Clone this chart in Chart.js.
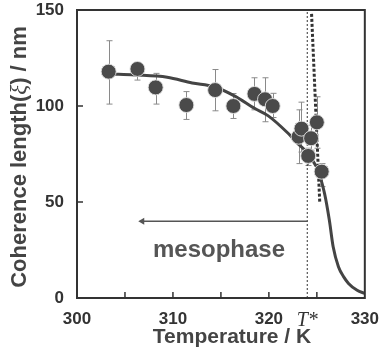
<!DOCTYPE html>
<html>
<head>
<meta charset="utf-8">
<script src="https://cdn.jsdelivr.net/npm/chart.js@4"></script>
<style>
  html, body { margin: 0; padding: 0; background: #fff; }
  #wrap { width: 382px; height: 360px; }
</style>
</head>
<body>
<div id="wrap"><canvas id="xiChart" width="382" height="360"></canvas></div>
<script>
// measured points: temperature (K), coherence length (nm), error bar ends
const temps = [303.3, 306.3, 308.2, 311.4, 314.4, 316.3, 318.5, 319.6, 320.4, 323.1, 323.4, 324.4, 324.1, 325.0, 325.5];
const xiVals = [117.9, 119.3, 109.7, 100.5, 108.3, 100.0, 106.3, 103.5, 100.0, 84.0, 88.2, 83.2, 74.0, 91.5, 65.8];
const errHigh = [134, 122, 117, 107.5, 119, 106.5, 114.7, 114.7, 106.6, 98, 102, 90, 78, 104.8, 70];
const errLow = [101, 113.5, 101, 93, 97.5, 93.5, 98, 91.8, 94, 70, 76, 77, 69, 78, 58];

// fitted curve
const fitT = [303.5, 306, 309.4, 312, 314.3, 316.5, 318.5, 319.9, 322, 323, 323.75, 324.5, 325.1, 325.8, 326.3, 326.7, 327.25, 327.8, 328.3, 329.2, 330];
const fitXi = [116.7, 116.2, 115, 112, 110, 105, 98.8, 95, 85.8, 80.5, 77, 72, 66.7, 54.5, 40.6, 26.7, 16.3, 11, 7.6, 4, 2.4];

// steep dotted line and T* marker
const steepT = [324.45, 325.3];
const steepXi = [148, 50];
const tStar = 324;
const tStarXi = [0, 150];

// arrow "mesophase"
const arrowT = [324, 306.8];
const arrowXi = [40, 40];
const mesoLabel = 'mesophase';
const mesoPos = { x: 314.8, y: 25 };

const xTickVals = [300, 305, 310, 315, 320, 324, 325, 330];
const xTickLabels = { 300: '300', 310: '310', 320: '320', 324: 'T*', 330: '330' };
const xTitle = 'Temperature / K';
const yTitleParts = ['Coherence length(', 'ξ', ') / nm'];

const pts = (xs, ys) => xs.map((x, i) => ({ x: x, y: ys[i] }));

const sansBold = (size) => 'bold ' + size + 'px "Liberation Sans", Arial, sans-serif';

const figurePlugin = {
  id: 'figureBits',
  beforeDatasetsDraw(chart) {
    const { ctx, scales: { x, y } } = chart;
    ctx.save();
    ctx.strokeStyle = '#8a8a8a';
    ctx.lineWidth = 1;
    temps.forEach((t, i) => {
      const px = Math.round(x.getPixelForValue(t)) + 0.5;
      const top = y.getPixelForValue(errHigh[i]);
      const bot = y.getPixelForValue(errLow[i]);
      ctx.beginPath();
      ctx.moveTo(px, top); ctx.lineTo(px, bot);
      ctx.moveTo(px - 3, top); ctx.lineTo(px + 3, top);
      ctx.moveTo(px - 3, bot); ctx.lineTo(px + 3, bot);
      ctx.stroke();
    });
    ctx.restore();
  },
  afterDraw(chart) {
    const { ctx, chartArea: a, scales: { x, y } } = chart;
    ctx.save();
    // frame
    ctx.strokeStyle = '#333';
    ctx.lineWidth = 2;
    ctx.strokeRect(a.left, a.top, a.right - a.left, a.bottom - a.top);
    // inward ticks
    ctx.lineWidth = 1.5;
    ctx.beginPath();
    xTickVals.forEach(v => {
      if (v === tStar || v === 300 || v === 330) return;
      const px = x.getPixelForValue(v);
      ctx.moveTo(px, a.bottom); ctx.lineTo(px, a.bottom - 6);
    });
    [50, 100].forEach(v => {
      const py = y.getPixelForValue(v);
      ctx.moveTo(a.left, py); ctx.lineTo(a.left + 6, py);
    });
    ctx.stroke();

    // mesophase label
    ctx.fillStyle = '#555';
    ctx.font = sansBold(24);
    ctx.textAlign = 'center';
    ctx.textBaseline = 'middle';
    ctx.fillText(mesoLabel, x.getPixelForValue(mesoPos.x), y.getPixelForValue(mesoPos.y));

    // x title
    ctx.fillStyle = '#444';
    ctx.font = sansBold(21);
    ctx.fillText(xTitle, 232, 337);

    // y title, with italic xi
    const fonts = [sansBold(22), 'italic 23px "Liberation Serif", serif', sansBold(22)];
    const widths = yTitleParts.map((s, i) => { ctx.font = fonts[i]; return ctx.measureText(s).width; });
    const total = widths.reduce((p, c) => p + c, 0);
    ctx.translate(20, 157);
    ctx.rotate(-Math.PI / 2);
    ctx.textAlign = 'left';
    let cx = -total / 2;
    yTitleParts.forEach((s, i) => {
      ctx.font = fonts[i];
      ctx.fillText(s, cx, 0);
      cx += widths[i];
    });
    ctx.restore();
  }
};

const ctx = document.getElementById('xiChart').getContext('2d');
new Chart(ctx, {
  type: 'scatter',
  data: {
    datasets: [
      {
        label: 'data',
        data: pts(temps, xiVals),
        backgroundColor: '#4a4a4a',
        borderColor: 'rgba(225,225,225,0.9)',
        borderWidth: 1,
        pointRadius: 7.5,
        pointHoverRadius: 7.5
      },
      {
        label: 'fit',
        data: pts(fitT, fitXi),
        showLine: true,
        borderColor: '#444',
        borderWidth: 3,
        pointRadius: 0,
        cubicInterpolationMode: 'monotone'
      },
      {
        label: 'arrow',
        data: pts(arrowT, arrowXi),
        showLine: true,
        borderColor: '#555',
        borderWidth: 1.5,
        backgroundColor: '#555',
        pointStyle: 'triangle',
        pointRotation: 270,
        pointRadius: [0, 4],
        pointBorderWidth: 0
      },
      {
        label: 'steep',
        data: pts(steepT, steepXi),
        showLine: true,
        borderColor: '#333',
        borderWidth: 3,
        borderDash: [3, 2],
        pointRadius: 0
      },
      {
        label: 'T*',
        data: pts([tStar, tStar], tStarXi),
        showLine: true,
        borderColor: '#333',
        borderWidth: 1,
        borderDash: [2, 2],
        pointRadius: 0
      }
    ]
  },
  options: {
    responsive: false,
    animation: false,
    layout: { padding: { top: 10, right: 14, left: 0, bottom: 0 } },
    plugins: { legend: { display: false }, tooltip: { enabled: false } },
    scales: {
      x: {
        type: 'linear',
        min: 300, max: 330,
        grid: { display: false },
        border: { display: false },
        afterBuildTicks: s => { s.ticks = xTickVals.map(v => ({ value: v })); },
        afterFit: s => { s.height = 62; },
        ticks: {
          autoSkip: false,
          maxRotation: 0,
          padding: 3,
          color: '#333',
          callback: v => xTickLabels[v] || '',
          font: c => (c.tick && c.tick.value === tStar)
            ? { family: '"Liberation Serif", serif', style: 'italic', size: 20 }
            : { family: '"Liberation Sans", Arial, sans-serif', weight: 'bold', size: 17 }
        }
      },
      y: {
        min: 0, max: 150,
        grid: { display: false },
        border: { display: false },
        afterFit: s => { s.width = 77; s.paddingTop = 0; s.paddingBottom = 0; },
        ticks: {
          stepSize: 50,
          padding: 5,
          color: '#333',
          font: { family: '"Liberation Sans", Arial, sans-serif', weight: 'bold', size: 17 }
        }
      }
    }
  },
  plugins: [figurePlugin]
});
</script>
</body>
</html>
